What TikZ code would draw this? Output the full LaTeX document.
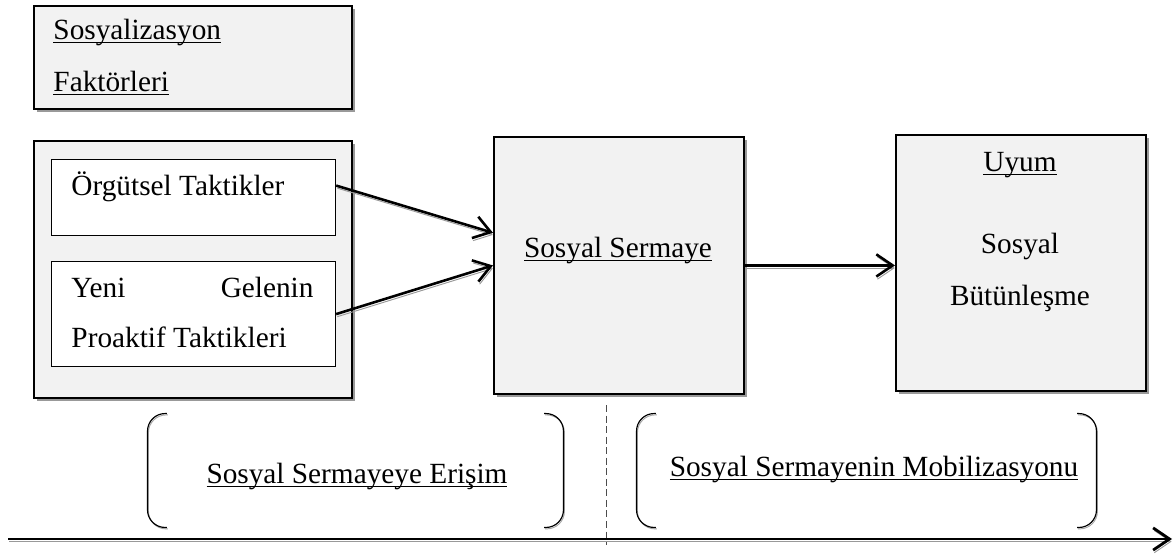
\documentclass[tikz,border=0pt]{standalone}
\usepackage{fontspec}
\setmainfont{Liberation Serif}
\usetikzlibrary{arrows.meta,shadows,positioning}
\newcommand{\ulword}[1]{\underline{\smash{#1}}}
\tikzset{
  shadowbox/.style={draw, line width=0.8pt, fill=black!5, anchor=north west, inner sep=0pt,
    drop shadow={shadow xshift=1.2pt, shadow yshift=-1.2pt, fill=black!40, opacity=1}},
  tacbox/.style={draw, line width=0.5pt, fill=white, anchor=north west, inner sep=0pt},
  txt/.style={anchor=base west, inner sep=0pt},
  ctxt/.style={anchor=base, inner sep=0pt},
  flow/.style={line width=1.1pt, -{Straight Barb[length=7pt,width=9.5pt]},
    preaction={draw=black!40, transform canvas={shift={(0.5pt,-1.1pt)}}}},
  pairbox/.style={inner sep=0pt, minimum height=1.695cm},
  brack/.style={line width=0.5pt, rounded corners=7.5pt,
    preaction={draw=black!35, transform canvas={shift={(0.4pt,-0.6pt)}}}},
}
\begin{document}
\begin{tikzpicture}[x=0.015cm, y=-0.015cm, font=\fontsize{12.5}{15}\selectfont]
\useasboundingbox (0,0) rectangle (1176,556);

% boxes
\node[shadowbox, minimum width=4.77cm, minimum height=1.545cm] (facTop)  at (33,5)    {};
\node[shadowbox, minimum width=4.77cm, minimum height=3.855cm] (facBox)  at (33,140)  {};
\node[tacbox,    minimum width=4.26cm, minimum height=1.14cm]  (tacOrg)  at (51,159)  {};
\node[tacbox,    minimum width=4.26cm, minimum height=1.575cm] (tacNew)  at (51,261)  {};
\node[shadowbox, minimum width=3.75cm, minimum height=3.855cm] (capBox)  at (493,136) {};
\node[shadowbox, minimum width=3.75cm, minimum height=3.84cm]  (uyumBox) at (895,134) {};

% texts
\node[txt]  (facOne)  at (53,39)    {\ulword{Sosyalizasyon}};
\node[txt]  (facTwo)  at (53,91)    {\ulword{Faktörleri}};
\node[txt]  (orgTxt)  at (71,195)   {Örgütsel Taktikler};
\node[txt]  (newTxt)  at (71,297)   {\hbox to 3.63cm{Yeni\hfill Gelenin}};
\node[txt]  (proTxt)  at (71,347)   {Proaktif Taktikleri};
\node[ctxt] (capTxt)  at (618,257)  {\ulword{Sosyal Sermaye}};
\node[ctxt] (uyumTxt) at (1020,171) {\ulword{Uyum}};
\node[ctxt] (socTxt)  at (1020,253) {Sosyal};
\node[ctxt] (intTxt)  at (1020,305) {Bütünleşme};

% arrows
\draw[flow] ([yshift=0.18cm]tacOrg.east) -- ([yshift=0.49cm]capBox.west);
\draw[flow] (tacNew.east) -- (capBox.west);
\draw[flow] (capBox.east) -- (capBox.east -| uyumBox.west);

% brackets
\node[pairbox, minimum width=6.225cm] (accessPair) at (355.5,470.5) {};
\node[pairbox, minimum width=6.885cm] (mobilPair)  at (866.5,470.5) {};
\node[ctxt] (accessTxt) at (357,483) {\ulword{Sosyal Sermayeye Erişim}};
\node[ctxt] (mobilTxt)  at (874,476) {\ulword{Sosyal Sermayenin Mobilizasyonu}};
\foreach \p in {accessPair, mobilPair} {
  \draw[brack] ([xshift=0.29cm]\p.north west) -- (\p.north west) -- (\p.south west) -- ([xshift=0.29cm]\p.south west);
  \draw[brack] ([xshift=-0.29cm]\p.north east) -- (\p.north east) -- (\p.south east) -- ([xshift=-0.29cm]\p.south east);
}

% time line
\coordinate (divTop) at (606,405);
\coordinate (divBot) at (606,545);
\draw[black!70, line width=0.4pt, dash pattern=on 3pt off 1.5pt] (divTop) -- (divBot);
\coordinate (timeStart) at (8,539);
\coordinate (timeEnd)   at (1172,539);
\draw[flow, line width=1.2pt] (timeStart) -- (timeEnd);
\end{tikzpicture}
\end{document}
